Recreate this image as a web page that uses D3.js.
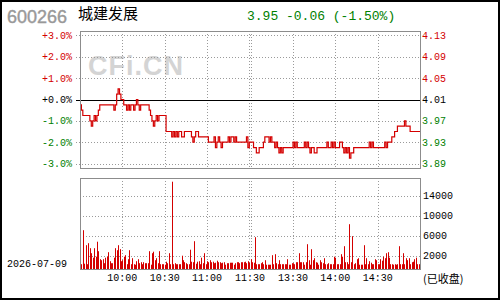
<!DOCTYPE html>
<meta charset="utf-8">
<style>
body { margin: 0; background: #fff; }
text { font-family: "Liberation Mono", "DejaVu Sans Mono", monospace; }
</style>
<body>
<svg width="500" height="300"></svg>
<script src="https://cdn.jsdelivr.net/npm/d3@7"></script>
<script>

// --- data ---
var code = "600266";
var name = "城建发展";
var quote = "3.95 -0.06 (-1.50%)";
var dateLabel = "2026-07-09";
var prevClose = 4.01;

var pctTicks = [3, 2, 1, 0, -1, -2, -3];
var priceTicks = ["4.13", "4.09", "4.05", "4.01", "3.97", "3.93", "3.89"];
var volTicks = [2000, 6000, 10000, 14000];
var timeTicks = [30, 60, 90, 120.5, 151, 181, 211];
var timeLabels = ["10:00", "10:30", "11:00", "11:30", "13:30", "14:00", "14:30"];
var gridIdx = [30, 60, 90, 120, 121, 151, 181, 211];

// one price per minute, 9:30-11:30 then 13:00-15:00
var prices = [
  4.00, 3.99, 3.98, 3.98, 3.98, 3.98, 3.98, 3.97, 3.96, 3.97,
  3.98, 3.97, 3.98, 3.99, 4.00, 4.00, 4.00, 4.00, 4.00, 4.00,
  4.00, 4.00, 4.00, 4.00, 3.99, 4.00, 4.02, 4.03, 4.02, 4.01,
  4.01, 4.00, 4.00, 3.99, 4.00, 3.99, 4.00, 4.00, 3.99, 4.00,
  4.01, 4.00, 3.99, 4.00, 4.00, 4.00, 4.00, 4.00, 4.00, 3.99,
  3.98, 3.97, 3.96, 3.97, 3.98, 3.97, 3.98, 3.98, 3.98, 3.98,
  3.98, 3.95, 3.95, 3.95, 3.95, 3.94, 3.95, 3.94, 3.95, 3.94,
  3.95, 3.95, 3.94, 3.94, 3.95, 3.95, 3.95, 3.95, 3.95, 3.94,
  3.93, 3.94, 3.95, 3.95, 3.94, 3.94, 3.94, 3.94, 3.94, 3.94,
  3.94, 3.93, 3.93, 3.93, 3.93, 3.94, 3.92, 3.93, 3.94, 3.93,
  3.92, 3.93, 3.93, 3.93, 3.93, 3.94, 3.93, 3.94, 3.94, 3.93,
  3.94, 3.93, 3.93, 3.93, 3.93, 3.93, 3.93, 3.93, 3.94, 3.92,
  3.93, 3.93, 3.93, 3.92, 3.92, 3.91, 3.91, 3.92, 3.92, 3.92,
  3.93, 3.94, 3.94, 3.94, 3.93, 3.94, 3.93, 3.93, 3.92, 3.93,
  3.92, 3.91, 3.92, 3.91, 3.92, 3.92, 3.92, 3.92, 3.92, 3.92,
  3.92, 3.93, 3.92, 3.93, 3.92, 3.92, 3.92, 3.92, 3.92, 3.93,
  3.92, 3.93, 3.92, 3.91, 3.92, 3.92, 3.91, 3.91, 3.92, 3.92,
  3.92, 3.92, 3.92, 3.92, 3.92, 3.93, 3.92, 3.92, 3.93, 3.92,
  3.93, 3.92, 3.92, 3.92, 3.93, 3.93, 3.92, 3.91, 3.92, 3.91,
  3.92, 3.90, 3.91, 3.91, 3.92, 3.92, 3.92, 3.92, 3.92, 3.92,
  3.92, 3.92, 3.92, 3.92, 3.92, 3.93, 3.92, 3.93, 3.92, 3.92,
  3.92, 3.92, 3.92, 3.92, 3.92, 3.92, 3.93, 3.92, 3.93, 3.93,
  3.93, 3.94, 3.94, 3.95, 3.95, 3.96, 3.96, 3.96, 3.96, 3.96,
  3.97, 3.96, 3.96, 3.96, 3.95, 3.95, 3.95, 3.95, 3.95, 3.95,
  3.95, 3.95
];

var volumes = [
  330, 300, 7100, 400, 4100, 300, 4500, 3500, 2500, 1600,
  3500, 1800, 4800, 2900, 1300, 1100, 1300, 500, 1600, 1800,
  2700, 900, 500, 500, 1600, 3500, 3100, 4100, 3300, 900,
  1100, 1800, 2100, 300, 1300, 3100, 300, 1500, 300, 200,
  900, 1300, 500, 700, 300, 700, 500, 500, 500, 2900,
  200, 2500, 2800, 1100, 1500, 500, 2900, 300, 300, 300,
  200, 800, 500, 2500, 300, 16800, 300, 500, 300, 300,
  300, 300, 2000, 1100, 700, 500, 300, 300, 3200, 800,
  700, 4900, 400, 800, 900, 300, 1600, 500, 2500, 300,
  900, 700, 1100, 700, 800, 500, 600, 1000, 700, 700,
  500, 600, 700, 200, 500, 500, 600, 600, 600, 200,
  500, 700, 700, 500, 700, 700, 700, 800, 500, 900,
  600, 1300, 700, 600, 5700, 300, 300, 300, 500, 700,
  300, 1100, 200, 200, 200, 200, 2100, 300, 2300, 500,
  300, 1100, 300, 300, 300, 300, 300, 1300, 200, 200,
  500, 500, 300, 700, 700, 2500, 700, 700, 700, 200,
  700, 4300, 1100, 200, 3300, 1100, 1500, 700, 600, 200,
  1100, 700, 500, 1500, 300, 300, 500, 300, 300, 300,
  1800, 1600, 300, 300, 300, 2300, 1800, 3900, 700, 700,
  300, 8300, 700, 5900, 300, 500, 1300, 1500, 200, 200,
  200, 4100, 300, 1500, 300, 900, 600, 300, 300, 1300,
  1100, 300, 300, 1300, 1000, 1800, 1500, 2500, 2700, 1600,
  300, 300, 200, 300, 200, 300, 3900, 300, 300, 2500,
  300, 1500, 1100, 1500, 300, 700, 800, 1300, 1600, 300,
  300, 2400
];

// --- layout ---
var svg = d3.select("svg");
var red = "#d40000", green = "#008000", grid = "#9a9a9a";
var L = 80, R = 420;
var pTop = 31, pBot = 168, vTop = 178, vBot = 269;

var x = d3.scaleLinear().domain([0, 241]).range([L, R]);
var yPct = d3.scaleLinear().domain([-3, 3]).range([163.7, 35.3]);
var yVol = d3.scaleLinear().domain([0, 14000]).range([265.7, 195.7]);

function px(v) { return Math.round(v) + 0.5; }

svg.append("rect").attr("width", 500).attr("height", 300).attr("fill", "#fff");

// watermark
svg.append("text")
  .attr("x", 88).attr("y", 75)
  .style("font-family", "Liberation Sans, Arial, sans-serif")
  .style("font-weight", "bold").style("font-size", "27px")
  .attr("fill", "#d4d4d4").attr("letter-spacing", 1)
  .text("CFi.CN");

// header
svg.append("text").attr("x", 7).attr("y", 23)
  .style("font-family", "Liberation Sans, Arial, sans-serif").style("font-size", "18px")
  .attr("fill", "#999").attr("stroke", "#999").attr("stroke-width", 0.4).text(code);
svg.append("text").attr("x", 78).attr("y", 19)
  .style("font-family", "Noto Sans CJK SC").style("font-size", "15px")
  .attr("fill", "#000").text(name);
svg.append("text").attr("x", 247).attr("y", 20)
  .style("font-size", "13px").attr("fill", green).text(quote);

// price panel grid
var pg = svg.append("g");
pg.selectAll(".hg").data(pctTicks.filter(function(d) { return d !== 0; }))
  .enter().append("line")
  .attr("x1", L - 4).attr("x2", R)
  .attr("y1", function(d) { return px(yPct(d)); }).attr("y2", function(d) { return px(yPct(d)); })
  .attr("stroke", grid).attr("stroke-dasharray", "1,2");

// volume grid
pg.selectAll(".vg").data(volTicks).enter().append("line")
  .attr("x1", L).attr("x2", R)
  .attr("y1", function(d) { return px(yVol(d)); }).attr("y2", function(d) { return px(yVol(d)); })
  .attr("stroke", grid).attr("stroke-dasharray", "1,2");

// vertical grid in both panels
[[pTop, pBot], [vTop, vBot]].forEach(function(r) {
  pg.selectAll(null).data(gridIdx).enter().append("line")
    .attr("x1", function(d) { return px(x(d)); }).attr("x2", function(d) { return px(x(d)); })
    .attr("y1", r[0]).attr("y2", r[1])
    .attr("stroke", grid).attr("stroke-dasharray", "1,2");
});

// zero line
svg.append("line").attr("x1", L - 4).attr("x2", R)
  .attr("y1", px(yPct(0))).attr("y2", px(yPct(0)))
  .attr("stroke", "#000").attr("stroke-width", 1.2);

// price line
var line = d3.line()
  .x(function(d, i) { return x(i); })
  .y(function(d) { return yPct((d - prevClose) / prevClose * 100); })
  .curve(d3.curveStepAfter);
svg.append("path").datum(prices)
  .attr("d", line).attr("fill", "none")
  .attr("stroke", red).attr("stroke-width", 1.2);

// volume bars
svg.selectAll(".bar").data(volumes).enter().append("rect")
  .attr("x", function(d, i) { return Math.round(x(i)); })
  .attr("width", 1)
  .attr("y", function(d) { return Math.max(vTop + 1, yVol(d)); })
  .attr("height", function(d) { return vBot - Math.max(vTop + 1, yVol(d)); })
  .attr("fill", red);

// panel frames
[[pTop, pBot], [vTop, vBot]].forEach(function(r) {
  svg.append("rect")
    .attr("x", L + 0.5).attr("y", r[0] + 0.5)
    .attr("width", R - L).attr("height", r[1] - r[0])
    .attr("fill", "none").attr("stroke", "#8c8c8c");
});

// axis labels
function tickColor(d) { return d > 0 ? red : (d < 0 ? green : "#000"); }
svg.selectAll(".lp").data(pctTicks).enter().append("text")
  .attr("x", 72).attr("y", function(d) { return yPct(d); })
  .attr("dy", "0.35em").attr("text-anchor", "end")
  .style("font-size", "10px").attr("fill", tickColor)
  .text(function(d) { return (d >= 0 ? "+" : "") + d.toFixed(1) + "%"; });

svg.selectAll(".rp").data(pctTicks).enter().append("text")
  .attr("x", 422).attr("y", function(d) { return yPct(d); })
  .attr("dy", "0.35em")
  .style("font-size", "10px").attr("fill", tickColor)
  .text(function(d, i) { return priceTicks[i]; });

svg.selectAll(".rv").data(volTicks).enter().append("text")
  .attr("x", 423).attr("y", function(d) { return yVol(d); })
  .attr("dy", "0.35em")
  .style("font-size", "10px").attr("fill", "#000")
  .text(function(d) { return d; });

svg.selectAll(".tl").data(timeTicks).enter().append("text")
  .attr("x", function(d) { return x(d); }).attr("y", 277)
  .attr("dy", "0.35em").attr("text-anchor", "middle")
  .style("font-size", "10px").attr("fill", "#000")
  .text(function(d, i) { return timeLabels[i]; });

svg.append("text").attr("x", 7).attr("y", 263).attr("dy", "0.35em")
  .style("font-size", "10px").attr("fill", "#000").text(dateLabel);

svg.append("text").attr("x", 423).attr("y", 279).attr("dy", "0.35em")
  .style("font-family", "Noto Sans CJK SC").style("font-size", "11px")
  .attr("fill", "#000").text("(已收盘)");

// outer frame
svg.append("rect").attr("x", 1).attr("y", 1).attr("width", 498).attr("height", 298)
  .attr("fill", "none").attr("stroke", "#000").attr("stroke-width", 2);

</script>
